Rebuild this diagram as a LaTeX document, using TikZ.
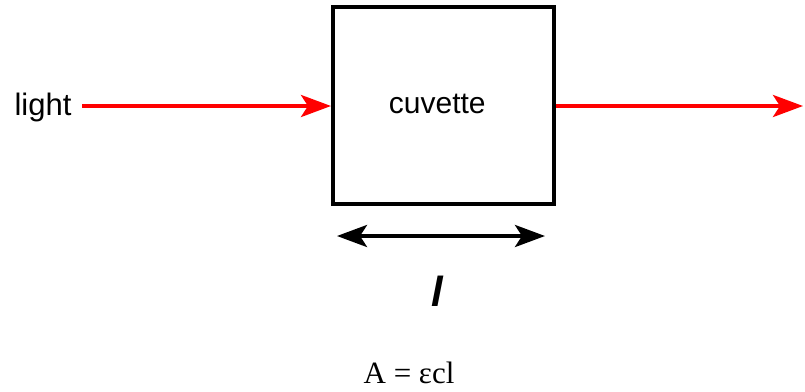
\documentclass[tikz,border=0pt]{standalone}
\usepackage{fontspec}
\setmainfont{Liberation Serif}
\newfontfamily\labelsans{Liberation Sans}
\usetikzlibrary{arrows.meta}
\tikzset{
  redarrow/.style={draw=red, line width=4pt, -{Stealth[length=30pt,width=22pt,inset=7pt]}},
  dimarrow/.style={draw=black, line width=4pt, {Stealth[length=30pt,width=22pt,inset=7pt]}-{Stealth[length=30pt,width=22pt,inset=7pt]}},
  cuvbox/.style={draw=black, line width=4pt, minimum width=220.5pt, minimum height=197pt, inner sep=0pt, font=\labelsans\fontsize{30}{30}\selectfont},
  sanslabel/.style={inner sep=0pt, font=\labelsans\fontsize{31}{31}\selectfont},
}
\begin{document}
\begin{tikzpicture}[x=1pt,y=-1pt]
\useasboundingbox (0,0) rectangle (805,391);
\node[cuvbox] (box) at (443.25,105) {\hspace*{-12pt}\raisebox{3pt}{cuvette}};
\node[sanslabel, anchor=base] (light) at (43,115) {light};
\coordinate (lstart) at (82,106);
\coordinate (rend) at (803,106);
\draw[redarrow] (lstart) -- (lstart -| box.west);
\draw[redarrow] (rend -| box.east) -- (rend);
\coordinate (dl) at (337,236);
\coordinate (dr) at (545,236);
\draw[dimarrow] (dl) -- (dr);
\node[sanslabel, anchor=base, font=\labelsans\itshape\fontsize{42}{42}\selectfont] (len) at (437,306) {\textbf{l}};
\node[anchor=base, inner sep=0pt, font=\fontsize{31}{31}\selectfont] (eq) at (409,383) {A = εcl};
\end{tikzpicture}
\end{document}
